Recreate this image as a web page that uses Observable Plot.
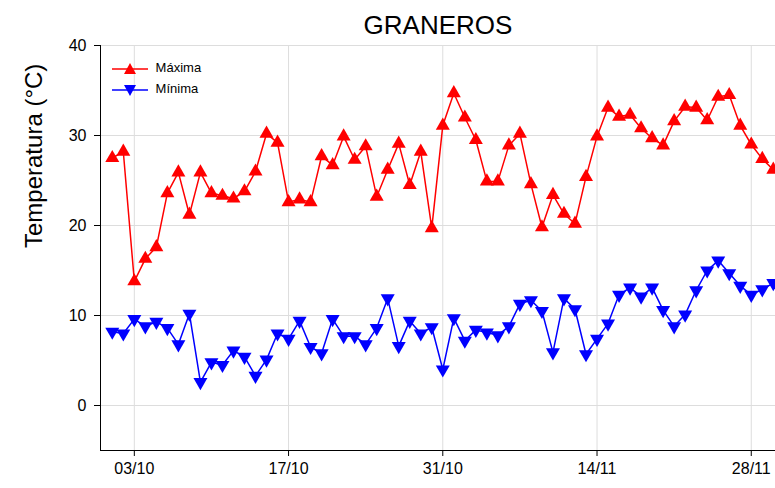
<!DOCTYPE html>
<html><head><meta charset="utf-8">
<script src="https://cdn.jsdelivr.net/npm/d3@7"></script>
<script src="https://cdn.jsdelivr.net/npm/@observablehq/plot@0.6"></script>
<style>body{margin:0;overflow:hidden;background:#fff;font-family:Arial,"Liberation Sans",sans-serif}#c{position:relative;width:775px;height:488px}
#lg{position:absolute;left:112px;top:57px;font-size:13px;line-height:21px}</style>
</head><body><div id="c"></div>
<script>
const startDate = "2023-10-01";
const maxima = [27.5,28.2,13.8,16.3,17.6,23.6,25.9,21.2,25.9,23.6,23.3,23.0,23.8,26.0,30.2,29.2,22.6,22.9,22.6,27.7,26.7,29.9,27.3,28.8,23.2,26.2,29.1,24.5,28.2,19.7,31.1,34.7,32.0,29.5,24.9,24.9,28.9,30.2,24.6,19.8,23.4,21.3,20.2,25.4,29.9,33.1,32.1,32.3,30.8,29.7,28.9,31.6,33.2,33.1,31.7,34.3,34.5,31.1,29.0,27.4,26.2];
const minima = [8.2,8.0,9.6,8.8,9.3,8.6,6.8,10.2,2.6,4.8,4.5,6.1,5.4,3.3,5.1,8.0,7.4,9.4,6.5,5.8,9.6,7.7,7.7,6.8,8.6,11.9,6.6,9.4,8.0,8.7,4.0,9.7,7.2,8.4,8.1,7.8,8.8,11.3,11.7,10.5,5.9,11.9,10.7,5.7,7.4,9.1,12.3,13.1,12.1,13.1,10.6,8.8,10.1,12.8,15.0,16.1,14.7,13.3,12.3,12.9,13.6];
const tickDates = ["2023-10-03","2023-10-17","2023-10-31","2023-11-14","2023-11-28"];
const yTicks = [0,10,20,30,40];
const series = ["Máxima","Mínima"];
const colors = ["#ff0000","#0000ff"];

const d0 = new Date(startDate);
const day = i => new Date(d0.getTime() + i*864e5);
const rows = [];
maxima.forEach((v,i)=>rows.push({date:day(i),t:v,s:series[0]}));
minima.forEach((v,i)=>rows.push({date:day(i),t:v,s:series[1]}));
const maxRows = rows.filter(r=>r.s===series[0]), minRows = rows.filter(r=>r.s===series[1]);
const tks = tickDates.map(d=>new Date(d));

const plot = Plot.plot({
  width:775, height:488, marginTop:45, marginLeft:100, marginRight:0, marginBottom:38,
  style:{fontSize:"16px",fontFamily:"Arial, Liberation Sans, sans-serif",color:"#000",overflow:"hidden"},
  x:{type:"utc", domain:[day(-1.07), day(60.2)], label:null},
  y:{domain:[-5,40], label:null},
  marks:[
    Plot.gridX(tks,{stroke:"#ddd",strokeOpacity:1}),
    Plot.gridY(yTicks,{stroke:"#ddd",strokeOpacity:1}),
    Plot.axisX({ticks:tks,tickFormat:d3.utcFormat("%d/%m"),tickSize:6,fontSize:16,tickPadding:6}),
    Plot.axisY({ticks:yTicks,tickSize:6,fontSize:16,tickPadding:8}),
    Plot.ruleX([day(-1.07)]),
    Plot.ruleY([-5]),
    Plot.line(maxRows,{x:"date",y:"t",stroke:colors[0],strokeWidth:1.5}),
    Plot.line(minRows,{x:"date",y:"t",stroke:colors[1],strokeWidth:1.5}),
    Plot.dot(maxRows,{x:"date",y:"t",symbol:"triangle",fill:colors[0],r:5.2}),
    Plot.dot(minRows,{x:"date",y:"t",symbol:"triangle",rotate:180,fill:colors[1],r:5.2}),
    Plot.text(["GRANEROS"],{frameAnchor:"top",dy:-30,fontSize:26}),
    Plot.text(["Temperatura (°C)"],{frameAnchor:"left",rotate:-90,dx:-66,fontSize:24})
  ]
});
plot.style.overflow="visible";
const c=document.getElementById("c");
c.appendChild(plot);
const lg=document.createElement("div");lg.id="lg";
lg.innerHTML=series.map((s,i)=>`<div><svg width="40" height="14" style="vertical-align:middle"><line x1="0" x2="36" y1="7" y2="7" stroke="${colors[i]}" stroke-width="1.5"/><path d="${i===0?'M18,1 L24,12 L12,12 Z':'M18,13 L24,2 L12,2 Z'}" fill="${colors[i]}"/></svg> ${s}</div>`).join("");
c.appendChild(lg);
</script></body></html>
